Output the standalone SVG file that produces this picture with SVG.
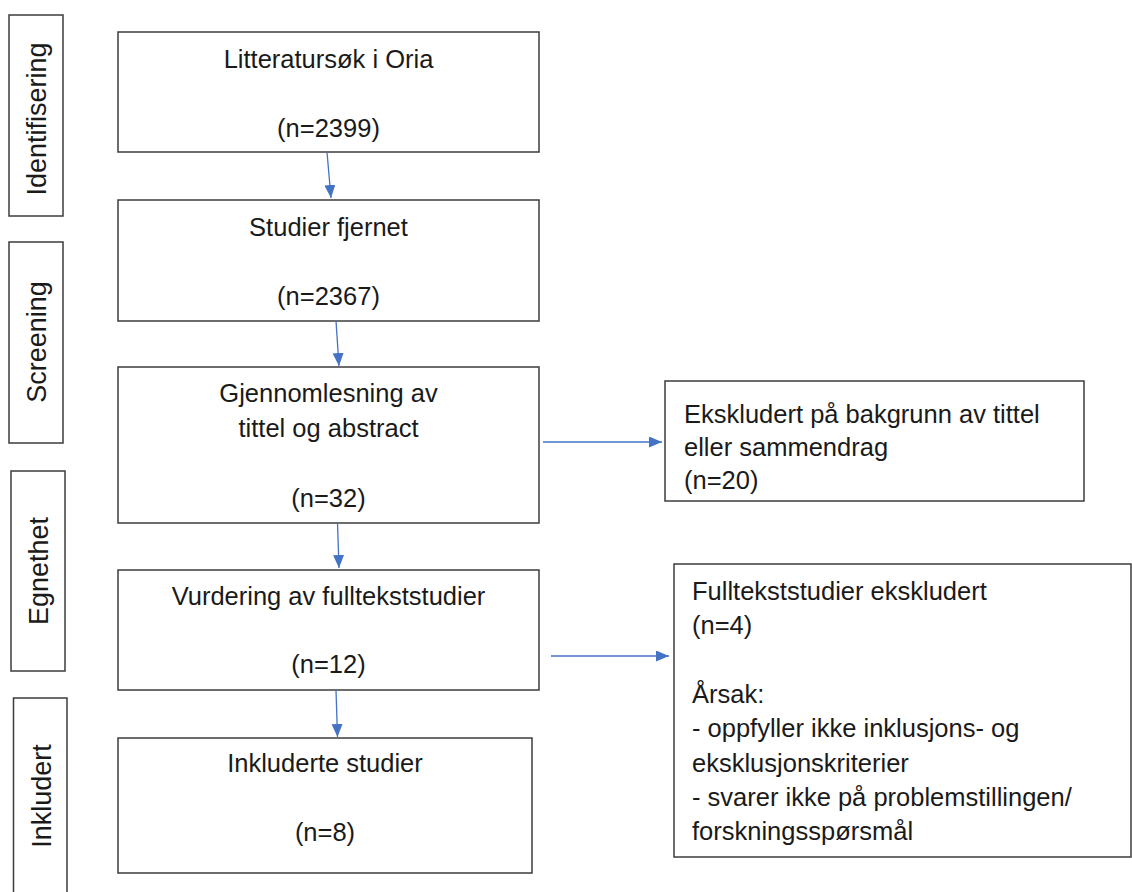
<svg xmlns="http://www.w3.org/2000/svg" width="1132" height="892" viewBox="0 0 1132 892">
<style>
.box{fill:#fff;stroke:#3c3c3c;stroke-width:1.5}
.t{font-family:"Liberation Sans",Arial,sans-serif;font-size:25.5px;fill:#1a1a1a}
.c{text-anchor:middle}
.v{text-anchor:middle;font-size:27px}
.con{stroke:#4472c4;stroke-width:1.3;fill:none;marker-end:url(#ah)}
</style>
<defs>
<marker id="ah" markerUnits="userSpaceOnUse" markerWidth="14" markerHeight="12" refX="13" refY="5.5" orient="auto">
<path d="M0,0 L13,5.5 L0,11 Z" fill="#4472c4"/>
</marker>
</defs>
<rect width="1132" height="892" fill="#fff"/>

<g id="phase-identifisering">
<rect class="box" x="9" y="15" width="54" height="201"/>
<text class="t v" transform="translate(46,119) rotate(-90)">Identifisering</text>
</g>
<g id="phase-screening">
<rect class="box" x="9" y="242" width="54" height="201"/>
<text class="t v" transform="translate(46,342) rotate(-90)">Screening</text>
</g>
<g id="phase-egnethet">
<rect class="box" x="11" y="471" width="54" height="200"/>
<text class="t v" transform="translate(48,571) rotate(-90)">Egnethet</text>
</g>
<g id="phase-inkludert">
<rect class="box" x="13.5" y="698" width="53.5" height="210"/>
<text class="t v" transform="translate(51,796) rotate(-90)">Inkludert</text>
</g>

<g id="n1">
<rect class="box" x="118" y="32" width="421" height="120"/>
<text class="t c" x="328.5" y="68">Litteratursøk i Oria</text>
<text class="t c" x="328.5" y="137">(n=2399)</text>
</g>
<g id="n2">
<rect class="box" x="118" y="200" width="421" height="121"/>
<text class="t c" x="328.5" y="236">Studier fjernet</text>
<text class="t c" x="328.5" y="305">(n=2367)</text>
</g>
<g id="n3">
<rect class="box" x="118" y="367" width="421" height="156"/>
<text class="t c" x="328.5" y="402">Gjennomlesning av</text>
<text class="t c" x="328.5" y="437">tittel og abstract</text>
<text class="t c" x="328.5" y="507">(n=32)</text>
</g>
<g id="n4">
<rect class="box" x="118" y="570" width="421" height="120"/>
<text class="t c" x="328.5" y="605">Vurdering av fulltekststudier</text>
<text class="t c" x="328.5" y="673">(n=12)</text>
</g>
<g id="n5">
<rect class="box" x="118" y="738" width="414" height="135"/>
<text class="t c" x="325" y="772">Inkluderte studier</text>
<text class="t c" x="325" y="841">(n=8)</text>
</g>
<g id="x1">
<rect class="box" x="665" y="381" width="419" height="120"/>
<text class="t" x="684" y="423">Ekskludert på bakgrunn av tittel</text>
<text class="t" x="684" y="456">eller sammendrag</text>
<text class="t" x="684" y="489">(n=20)</text>
</g>
<g id="x2">
<rect class="box" x="674" y="564" width="457" height="293"/>
<text class="t" x="692" y="600">Fulltekststudier ekskludert</text>
<text class="t" x="692" y="634">(n=4)</text>
<text class="t" x="692" y="703">Årsak:</text>
<text class="t" x="692" y="737">- oppfyller ikke inklusjons- og</text>
<text class="t" x="692" y="772">eksklusjonskriterier</text>
<text class="t" x="692" y="806">- svarer ikke på problemstillingen/</text>
<text class="t" x="692" y="840">forskningsspørsmål</text>
</g>

<g id="connectors">
<path class="con" d="M327,152 L331,198"/>
<path class="con" d="M336,321 L339,366"/>
<path class="con" d="M337.5,523 L339,568"/>
<path class="con" d="M336,690 L337.5,737"/>
<path class="con" d="M543,442 L662,442"/>
<path class="con" d="M551,656 L669,656"/>
</g>
</svg>
